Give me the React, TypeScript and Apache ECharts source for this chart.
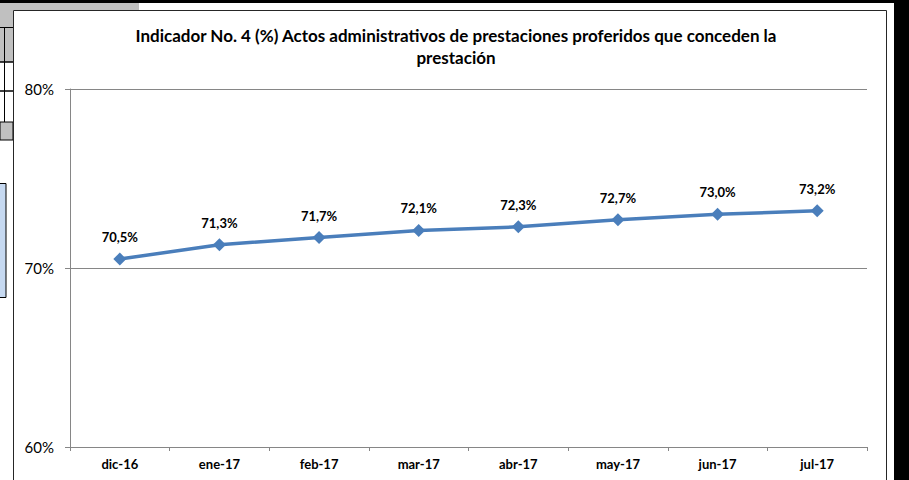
import React, { useEffect, useRef } from "react";
import * as echarts from "echarts";

const categories = ["dic-16", "ene-17", "feb-17", "mar-17", "abr-17", "may-17", "jun-17", "jul-17"];
const values = [70.5, 71.3, 71.7, 72.1, 72.3, 72.7, 73.0, 73.2];
const titleLines = [
  "Indicador No. 4 (%) Actos administrativos de prestaciones proferidos que conceden la",
  "prestación",
];
const yMin = 60;
const yMax = 80;
const yStep = 10;

const FONT = "Lato, 'Open Sans', sans-serif";

export default function App() {
  const ref = useRef<HTMLDivElement>(null);
  useEffect(() => {
    if (!ref.current) return;
    const chart = echarts.init(ref.current, null, { renderer: "svg" });
    chart.setOption({
      animation: false,
      backgroundColor: "#ffffff",
      title: {
        text: titleLines.join("\n"),
        left: 451,
        textAlign: "center",
        top: 19,
        textStyle: {
          fontFamily: FONT,
          fontWeight: "bold",
          fontSize: 17,
          lineHeight: 22,
          color: "#000000",
        },
      },
      grid: { left: 70, right: 42, top: 89, bottom: 33 },
      xAxis: {
        type: "category",
        data: categories,
        boundaryGap: true,
        axisLine: { lineStyle: { color: "#868686", width: 1 } },
        axisTick: { show: true, length: 4, inside: false, lineStyle: { color: "#868686" } },
        axisLabel: {
          margin: 10,
          fontFamily: FONT,
          fontWeight: "bold",
          fontSize: 13,
          color: "#000000",
        },
        splitLine: { show: false },
      },
      yAxis: {
        type: "value",
        min: yMin,
        max: yMax,
        interval: yStep,
        axisLine: { show: true, lineStyle: { color: "#868686", width: 1 } },
        axisTick: { show: true, length: 5, lineStyle: { color: "#868686" } },
        axisLabel: {
          margin: 16,
          fontFamily: FONT,
          fontSize: 15,
          color: "#000000",
          formatter: (v: number) => `${v}%`,
        },
        splitLine: { show: true, lineStyle: { color: "#868686", width: 1 } },
      },
      series: [
        {
          type: "line",
          data: values,
          symbol: "diamond",
          symbolSize: 13,
          lineStyle: { color: "#4A7EBB", width: 3.5 },
          itemStyle: { color: "#4A7EBB" },
          label: {
            show: true,
            position: "top",
            distance: 9,
            fontFamily: FONT,
            fontWeight: "bold",
            fontSize: 13,
            color: "#000000",
            formatter: (p: any) => `${p.value.toFixed(1).replace(".", ",")}%`,
          },
        },
      ],
      graphic: [
        { type: "rect", shape: { x: 0, y: 0, width: 909, height: 3 }, style: { fill: "#000000" }, z: 100 },
        { type: "rect", shape: { x: 894, y: 0, width: 15, height: 480 }, style: { fill: "#000000" }, z: 100 },
        { type: "rect", shape: { x: 0, y: 3, width: 139, height: 7 }, style: { fill: "#c0c0c0" }, z: 100 },
        { type: "rect", shape: { x: 0, y: 10, width: 13, height: 52 }, style: { fill: "#c0c0c0" }, z: 100 },
        { type: "line", shape: { x1: 4.5, y1: 27, x2: 4.5, y2: 62 }, style: { stroke: "#000000", lineWidth: 1 }, z: 101 },
        { type: "line", shape: { x1: 0, y1: 27.5, x2: 13, y2: 27.5 }, style: { stroke: "#000000", lineWidth: 1 }, z: 101 },
        { type: "line", shape: { x1: 0, y1: 62, x2: 13, y2: 62 }, style: { stroke: "#000000", lineWidth: 1.5 }, z: 101 },
        { type: "line", shape: { x1: 0, y1: 91, x2: 13, y2: 91 }, style: { stroke: "#000000", lineWidth: 1.5 }, z: 101 },
        { type: "line", shape: { x1: 4.5, y1: 62, x2: 4.5, y2: 122 }, style: { stroke: "#000000", lineWidth: 1 }, z: 101 },
        { type: "rect", shape: { x: 0, y: 122, width: 13, height: 18 }, style: { fill: "#c0c0c0", stroke: "#000000", lineWidth: 1 }, z: 100 },
        { type: "rect", shape: { x: -2, y: 183.5, width: 8, height: 114 }, style: { fill: "#c6d9f1", stroke: "#000000", lineWidth: 1 }, z: 100 },
        { type: "rect", shape: { x: 13.5, y: 10.5, width: 873, height: 480 }, style: { fill: "none", stroke: "#262626", lineWidth: 1 }, z: 100 },
      ],
    });
    return () => chart.dispose();
  }, []);
  return (
    <div
      ref={ref}
      style={{ position: "fixed", left: 0, top: 0, width: 909, height: 480, background: "#fff" }}
    />
  );
}
